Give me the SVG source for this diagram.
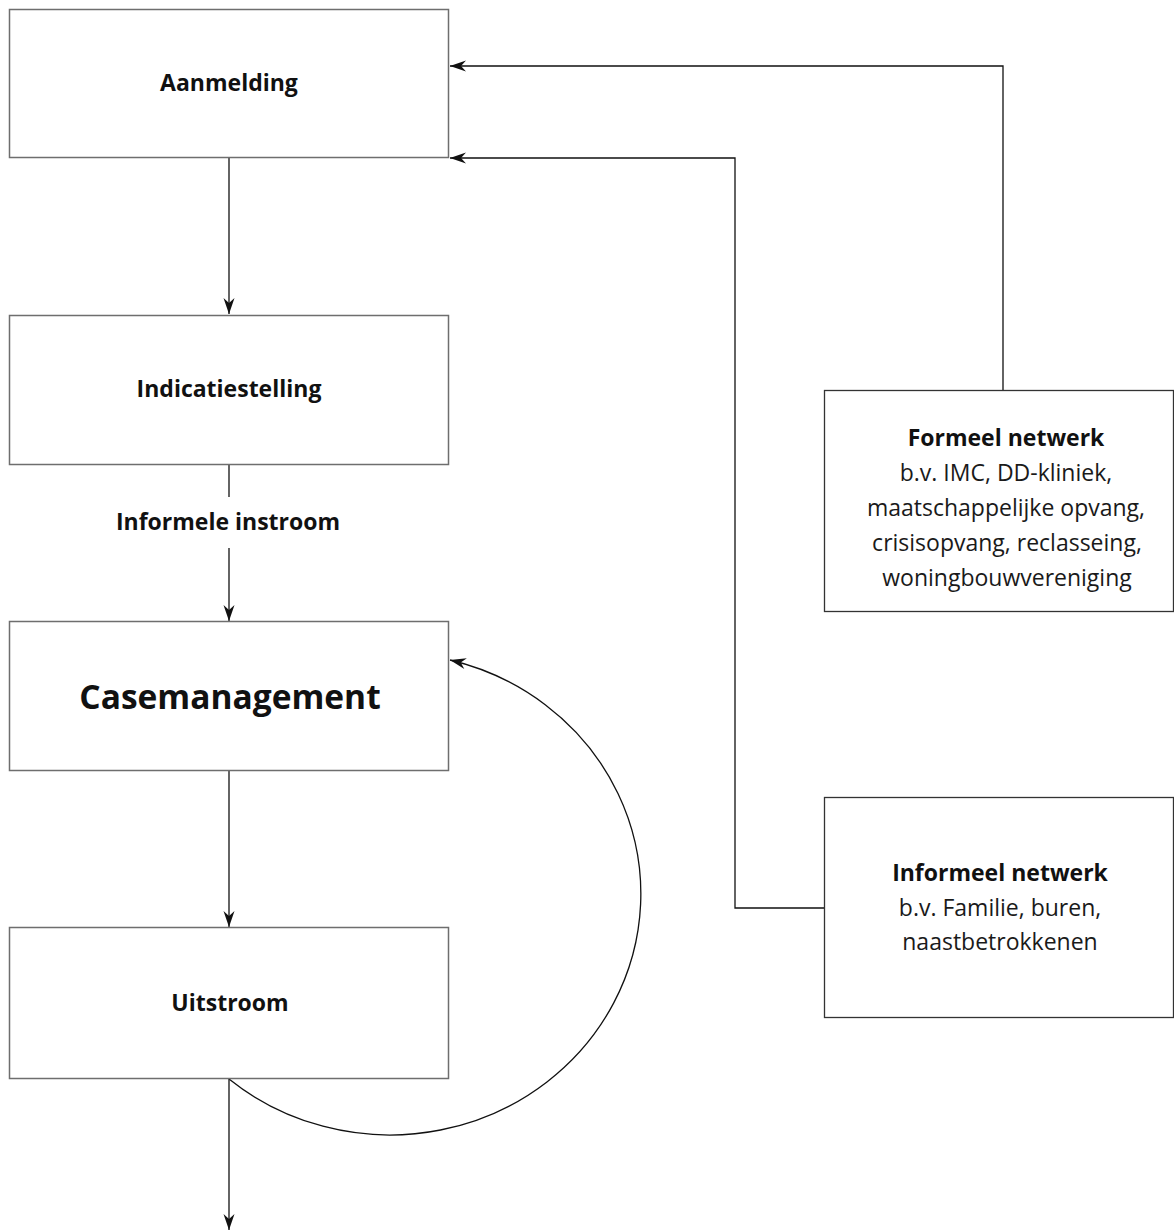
<svg xmlns="http://www.w3.org/2000/svg" width="1174" height="1231" viewBox="0 0 1174 1231">
  <style>
    .box { fill: #ffffff; stroke: #6e6e6e; stroke-width: 1.5; }
    .box-net { fill: #ffffff; stroke: #333333; stroke-width: 1.3; }
    .edge { fill: none; stroke: #111111; stroke-width: 1.3; }
    text { font-family: "Open Sans", "Noto Sans", "Liberation Sans", sans-serif; fill: #111111; text-anchor: middle; dominant-baseline: central; }
    .b { font-weight: bold; font-size: 23px; }
    .big { font-weight: bold; font-size: 33.5px; }
    .r { font-weight: normal; font-size: 23px; fill: #1a1a1a; }
  </style>
  <defs>
    <marker id="arrow" viewBox="-17 -6 18 12" refX="0" refY="0" markerWidth="18" markerHeight="12" markerUnits="userSpaceOnUse" orient="auto">
      <path d="M0,0 L-16,-5.5 L-11,0 L-16,5.5 Z" fill="#111111"/>
    </marker>
  </defs>

  <!-- connectors -->
  <g id="connectors">
    <line class="edge" x1="229" y1="158" x2="229" y2="314" marker-end="url(#arrow)"/>
    <line class="edge" x1="229" y1="465" x2="229" y2="497"/>
    <line class="edge" x1="229" y1="548" x2="229" y2="621" marker-end="url(#arrow)"/>
    <line class="edge" x1="229" y1="771" x2="229" y2="927" marker-end="url(#arrow)"/>
    <line class="edge" x1="229" y1="1079" x2="229" y2="1230" marker-end="url(#arrow)"/>
    <path class="edge" d="M229,1079 A 251 241 0 1 0 450,660" marker-end="url(#arrow)"/>
    <polyline class="edge" points="1003,390 1003,66 450,66" marker-end="url(#arrow)"/>
    <polyline class="edge" points="824,908 735,908 735,158 450,158" marker-end="url(#arrow)"/>
  </g>

  <g id="aanmelding">
    <rect class="box" x="9.5" y="9.5" width="439" height="148"/>
    <text class="b" x="229" y="82">Aanmelding</text>
  </g>

  <g id="indicatiestelling">
    <rect class="box" x="9.5" y="315.5" width="439" height="149"/>
    <text class="b" x="229" y="388">Indicatiestelling</text>
  </g>

  <g id="informele-instroom">
    <text class="b" x="228" y="521">Informele instroom</text>
  </g>

  <g id="casemanagement">
    <rect class="box" x="9.5" y="621.5" width="439" height="149"/>
    <text class="big" x="230" y="696">Casemanagement</text>
  </g>

  <g id="uitstroom">
    <rect class="box" x="9.5" y="927.5" width="439" height="151"/>
    <text class="b" x="230" y="1002">Uitstroom</text>
  </g>

  <g id="formeel-netwerk">
    <rect class="box-net" x="824.5" y="390.5" width="349" height="221"/>
    <text class="b" x="1006" y="437">Formeel netwerk</text>
    <text class="r" x="1006" y="472">b.v. IMC, DD-kliniek,</text>
    <text class="r" x="1006" y="507">maatschappelijke opvang,</text>
    <text class="r" x="1007" y="542">crisisopvang, reclasseing,</text>
    <text class="r" x="1007" y="577">woningbouwvereniging</text>
  </g>

  <g id="informeel-netwerk">
    <rect class="box-net" x="824.5" y="797.5" width="349" height="220"/>
    <text class="b" x="1000" y="872">Informeel netwerk</text>
    <text class="r" x="1000" y="907">b.v. Familie, buren,</text>
    <text class="r" x="1000" y="941">naastbetrokkenen</text>
  </g>
</svg>
